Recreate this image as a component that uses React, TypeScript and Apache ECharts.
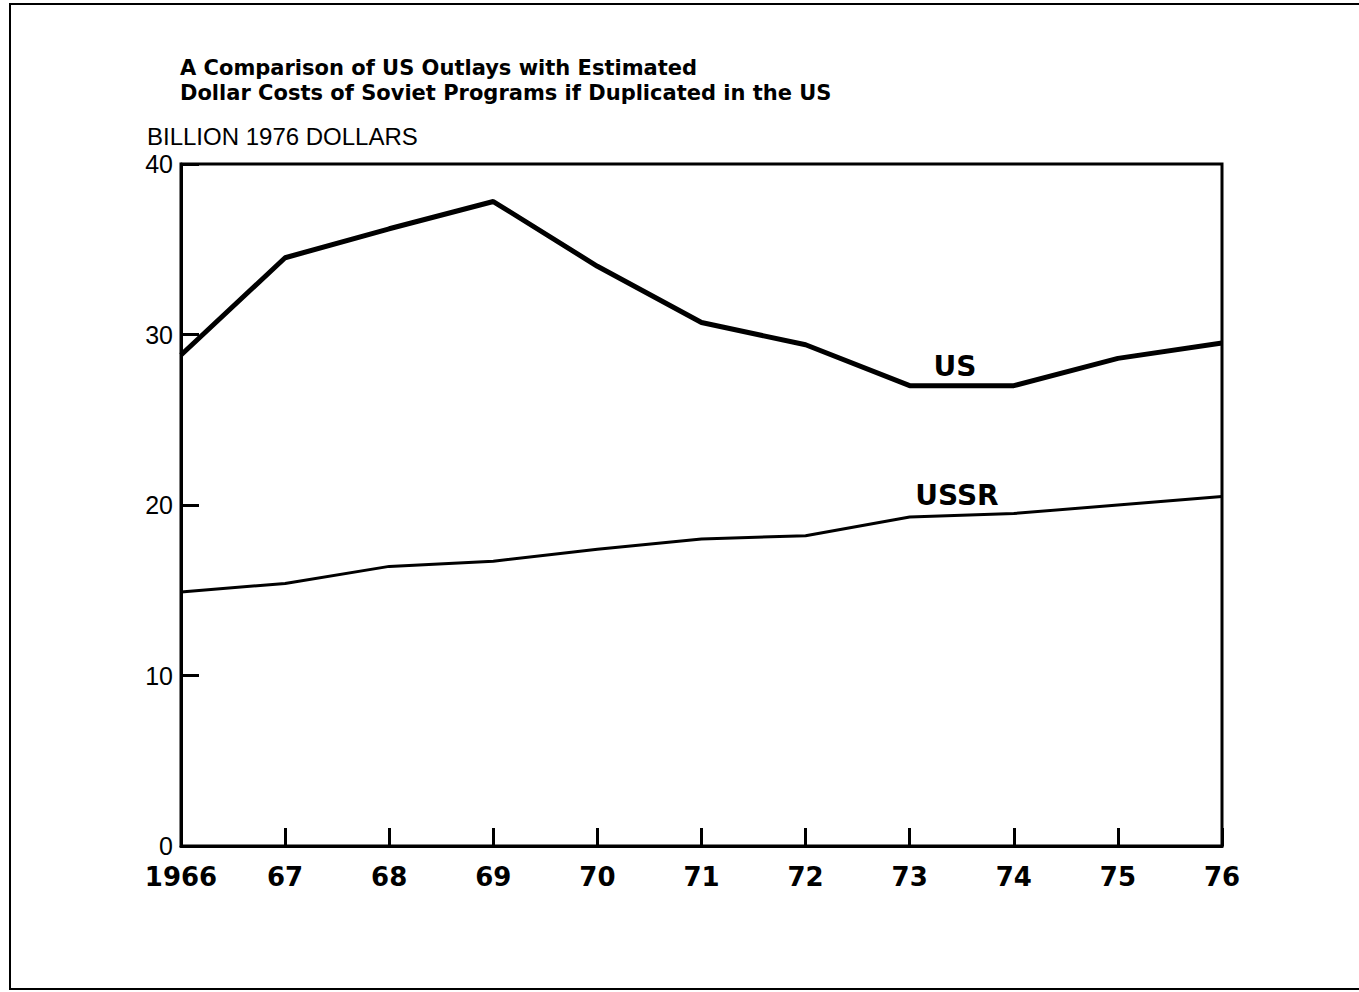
import React, { useEffect, useRef } from "react";
import * as echarts from "echarts";

const years = ["1966", "67", "68", "69", "70", "71", "72", "73", "74", "75", "76"];
const usValues = [28.8, 34.5, 36.2, 37.8, 34.0, 30.7, 29.4, 27.0, 27.0, 28.6, 29.5];
const ussrValues = [14.9, 15.4, 16.4, 16.7, 17.4, 18.0, 18.2, 19.3, 19.5, 20.0, 20.5];
const titleLines = [
  "A Comparison of US Outlays with Estimated",
  "Dollar Costs of Soviet Programs if Duplicated in the US",
];
const unitLabel = "BILLION 1976 DOLLARS";

export default function App() {
  const ref = useRef<HTMLDivElement>(null);
  useEffect(() => {
    if (!ref.current) return;
    const chart = echarts.init(ref.current, null, { renderer: "svg" });
    chart.setOption({
      animation: false,
      backgroundColor: "#ffffff",
      grid: {
        left: 181,
        top: 164,
        right: 137,
        bottom: 146,
        show: true,
        borderColor: "#000",
        borderWidth: 3,
        backgroundColor: "transparent",
      },
      xAxis: {
        type: "category",
        data: years,
        boundaryGap: false,
        axisLine: { lineStyle: { color: "#000", width: 3 } },
        axisTick: { inside: true, length: 18, alignWithLabel: true, lineStyle: { color: "#000", width: 3 } },
        axisLabel: {
          color: "#000",
          fontFamily: "DejaVu Sans",
          fontWeight: "bold",
          fontSize: 26,
          margin: 18,
        },
        splitLine: { show: false },
      },
      yAxis: {
        type: "value",
        min: 0,
        max: 40,
        interval: 10,
        axisLine: { show: true, lineStyle: { color: "#000", width: 3 } },
        axisTick: { show: true, inside: true, length: 18, lineStyle: { color: "#000", width: 3 } },
        axisLabel: {
          color: "#000",
          fontFamily: "Liberation Sans, Arial, sans-serif",
          fontSize: 25,
          margin: 8,
        },
        splitLine: { show: false },
      },
      series: [
        {
          name: "US",
          type: "line",
          data: usValues,
          symbol: "none",
          lineStyle: { color: "#000", width: 5 },
        },
        {
          name: "USSR",
          type: "line",
          data: ussrValues,
          symbol: "none",
          lineStyle: { color: "#000", width: 3 },
        },
      ],
      graphic: [
        {
          type: "rect",
          shape: { x: 10, y: 4, width: 1360, height: 985 },
          style: { fill: "none", stroke: "#000", lineWidth: 2 },
          silent: true,
        },
        {
          type: "text",
          left: 180,
          top: 55,
          style: {
            text: titleLines.join("\n"),
            fontFamily: "DejaVu Sans",
            fontWeight: "bold",
            fontSize: 21,
            lineHeight: 25,
            fill: "#000",
          },
        },
        {
          type: "text",
          left: 147,
          top: 124,
          style: {
            text: unitLabel,
            fontFamily: "Liberation Sans Narrow, Liberation Sans, Arial",
            fontSize: 24,
            fill: "#000",
          },
        },
        {
          type: "text",
          x: 955,
          y: 366,
          style: {
            text: "US",
            fontFamily: "DejaVu Sans",
            fontWeight: "bold",
            fontSize: 28,
            fill: "#000",
            align: "center",
            verticalAlign: "middle",
          },
        },
        {
          type: "text",
          x: 957,
          y: 495,
          style: {
            text: "USSR",
            fontFamily: "DejaVu Sans",
            fontWeight: "bold",
            fontSize: 28,
            fill: "#000",
            align: "center",
            verticalAlign: "middle",
          },
        },
      ],
    });
    return () => chart.dispose();
  }, []);
  return (
    <div
      ref={ref}
      style={{ position: "absolute", left: 0, top: 0, width: 1359, height: 992 }}
    />
  );
}
